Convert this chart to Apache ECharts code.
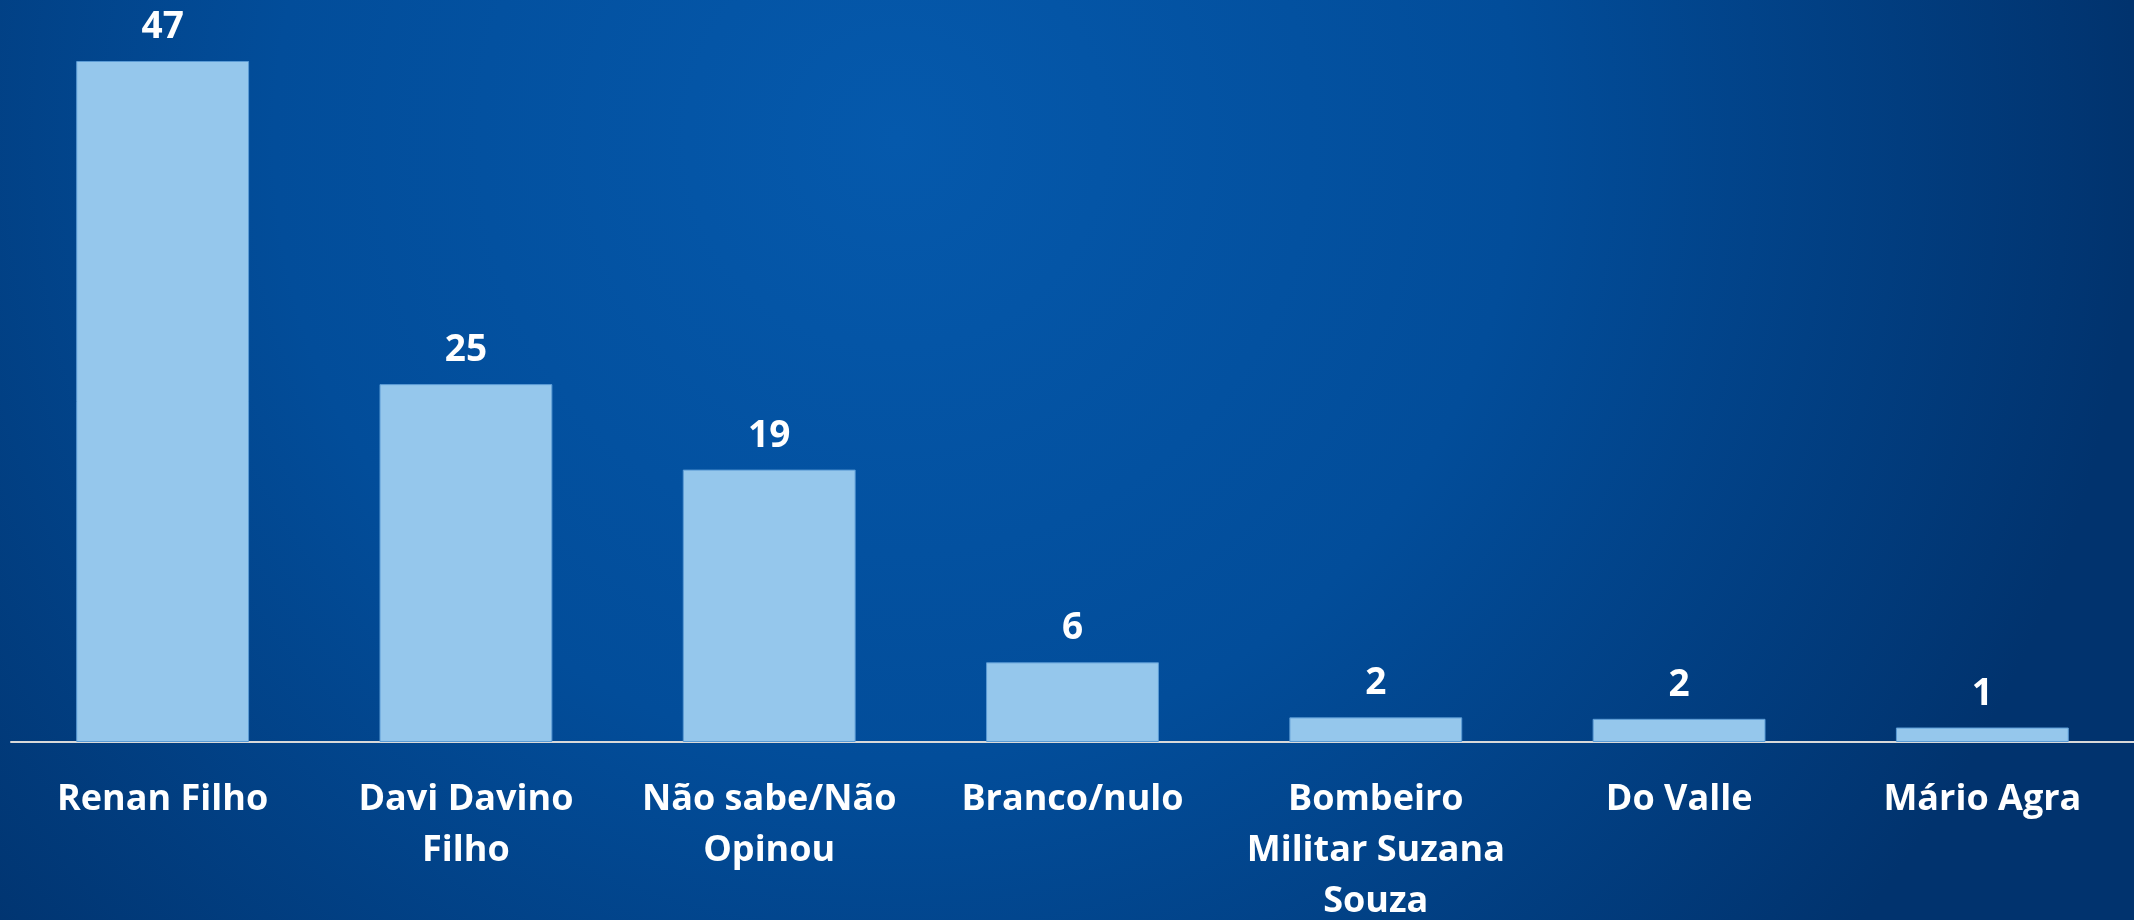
<!DOCTYPE html>
<html>
<head>
<meta charset="utf-8">
<script src="https://cdn.jsdelivr.net/npm/echarts@6/dist/echarts.min.js"></script>
<style>
  html, body { margin: 0; padding: 0; }
  #main { width: 2134px; height: 920px; }
</style>
</head>
<body>
<div id="main"></div>
<script>
// candidatos e percentuais
var categories = ['Renan Filho', 'Davi Davino\nFilho', 'Não sabe/Não\nOpinou', 'Branco/nulo',
    'Bombeiro\nMilitar Suzana\nSouza', 'Do Valle', 'Mário Agra'];
var values = [47, 24.7, 18.8, 5.5, 1.7, 1.6, 1.0];

var chart = echarts.init(document.getElementById('main'));
chart.setOption({
    backgroundColor: {
        type: 'radial',
        x: 0.42,
        y: 0.15,
        r: 1.35,
        colorStops: [
            { offset: 0, color: '#0559ac' },
            { offset: 0.5, color: '#024d9a' },
            { offset: 1, color: '#01336e' }
        ]
    },
    textStyle: { fontFamily: 'Open Sans' },
    grid: { left: 11, right: 0, top: 61, bottom: 178, containLabel: false, outerBoundsMode: 'none' },
    xAxis: {
        type: 'category',
        data: categories,
        axisLine: { lineStyle: { color: '#d9d9d9', width: 2 } },
        axisTick: { show: false },
        axisLabel: {
            color: '#ffffff',
            fontSize: 36,
            fontWeight: 'bold',
            lineHeight: 51,
            margin: 32,
            interval: 0
        }
    },
    yAxis: {
        type: 'value',
        min: 0,
        max: 47,
        show: false
    },
    series: [{
        type: 'bar',
        data: values,
        barWidth: '57%',
        itemStyle: {
            color: '#95c7ec',
            borderColor: '#5b9bd5',
            borderWidth: 1
        },
        label: {
            show: true,
            position: 'top',
            distance: 15,
            color: '#ffffff',
            fontSize: 37,
            fontWeight: 'bold',
            formatter: function (p) { return Math.round(p.value); }
        }
    }],
    animation: false
});
</script>
</body>
</html>
